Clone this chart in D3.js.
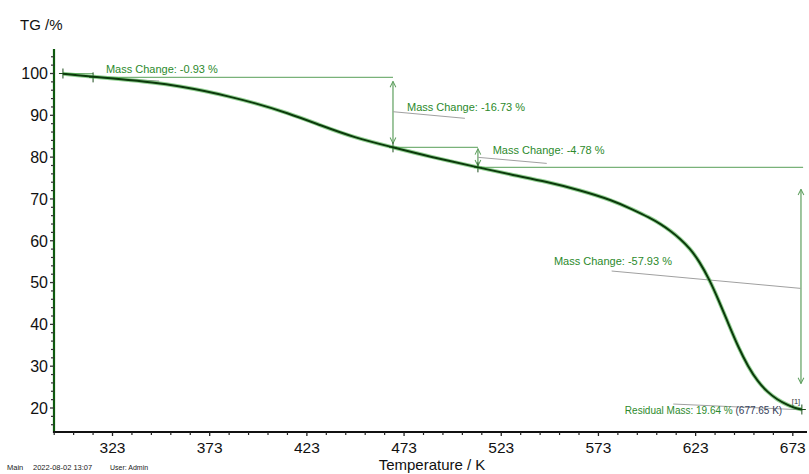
<!DOCTYPE html>
<html><head><meta charset="utf-8">
<script src="https://cdn.jsdelivr.net/npm/d3@7"></script>
<style>
html,body{margin:0;padding:0;background:#fff;}
svg{display:block;font-family:"Liberation Sans",Arial,sans-serif;}
</style></head>
<body><svg id="c" width="809" height="474"></svg>
<script>
// ---- data ----
const temperatureK = [297.5,305,312.6,325,344.3,358,370.1,383,395.8,412.9,430.1,447.2,467.3,486.3,511.0,529.2,546.4,563.5,580.6,590,599.5,605,610,615,620,625,630,635,640,645,650,655,660,665,670,674,677.65];
const tgPercent    = [99.95,99.6,99.25,98.75,97.85,96.9,95.85,94.5,93.0,90.6,87.6,84.7,82.34,80.1,77.56,75.7,74.1,72.1,69.6,67.6,65.5,64.0,62.4,60.5,58.2,55.0,50.8,45.6,40.0,34.5,29.9,26.3,23.8,22.0,20.8,20.0,19.64];
const xTickValues = [323,373,423,473,523,573,623,673];
const yTickValues = [20,30,40,50,60,70,80,90,100];
// step points (T, TG) and mass changes
const stepT   = [297.5,313,467.3,511,677.65];
const stepTG  = [100,99.07,82.34,77.56,19.64];
const stepLabels = ["Mass Change: -0.93 %","Mass Change: -16.73 %","Mass Change: -4.78 %","Mass Change: -57.93 %"];
const residualLabel = "Residual Mass: 19.64 % ";
const residualTemp = "(677.65 K)";

// ---- layout ----
const W=809,H=474, L=54, R=807, TOP=49, BOT=432;
const x = d3.scaleLinear().domain([292.9,680.3]).range([L,R]);
const y = d3.scaleLinear().domain([14.26,105.86]).range([BOT,TOP]);
const svg = d3.select("#c");

const GREEN_TXT="#2c8a2c", GREEN_LN="#79b279", GRAY_LN="#a0a0a0", ARROW="#5f9f5f";

// markers
const defs = svg.append("defs");
defs.append("marker").attr("id","ah").attr("viewBox","0 0 10 10").attr("refX",9).attr("refY",5)
  .attr("markerWidth",6).attr("markerHeight",6).attr("orient","auto-start-reverse")
  .append("path").attr("d","M1,1 L9,5 L1,9").attr("fill","none").attr("stroke",ARROW).attr("stroke-width",1.4);

// ---- axes ----
const minorY = d3.range(16,106,2).filter(v=>v%10!==0);
const minorX = d3.range(293,681,10).filter(v=>(v-323)%50!==0);

const gy = svg.append("g");
gy.append("line").attr("x1",L).attr("x2",L).attr("y1",TOP).attr("y2",BOT+1).attr("stroke","#0e5a0e").attr("stroke-width",2.2);
gy.selectAll("line.mj").data(yTickValues).join("line").attr("class","mj")
  .attr("x1",L-4).attr("x2",L).attr("y1",d=>y(d)).attr("y2",d=>y(d)).attr("stroke","#333").attr("stroke-width",1.3);
gy.selectAll("line.mn").data(minorY).join("line").attr("class","mn")
  .attr("x1",L-3).attr("x2",L).attr("y1",d=>y(d)).attr("y2",d=>y(d)).attr("stroke","#333").attr("stroke-width",1.2);
gy.selectAll("text").data(yTickValues).join("text")
  .attr("x",L-6).attr("y",d=>y(d)).attr("dy","0.36em").attr("text-anchor","end")
  .attr("font-size",16).attr("fill","#111").text(d=>d);

const gx = svg.append("g");
gx.append("line").attr("x1",L-1).attr("x2",R).attr("y1",BOT).attr("y2",BOT).attr("stroke","#111").attr("stroke-width",2);
gx.selectAll("line.mj").data(xTickValues).join("line").attr("class","mj")
  .attr("x1",d=>x(d)).attr("x2",d=>x(d)).attr("y1",BOT).attr("y2",BOT+4).attr("stroke","#222").attr("stroke-width",1.3);
gx.selectAll("line.mn").data(minorX).join("line").attr("class","mn")
  .attr("x1",d=>x(d)).attr("x2",d=>x(d)).attr("y1",BOT).attr("y2",BOT+3).attr("stroke","#222").attr("stroke-width",1.2);
gx.selectAll("text").data(xTickValues).join("text")
  .attr("x",d=>x(d)).attr("y",452.5).attr("text-anchor","middle")
  .attr("font-size",15.5).attr("fill","#111").text(d=>d);

svg.append("text").attr("x",20).attr("y",30).attr("font-size",15).attr("fill","#111").text("TG /%");
svg.append("text").attr("x",432).attr("y",470).attr("text-anchor","middle").attr("font-size",15).attr("fill","#111").text("Temperature / K");

const foot = svg.append("g").attr("font-size",7.5).attr("fill","#222");
foot.append("text").attr("x",7).attr("y",470).text("Main");
foot.append("text").attr("x",33).attr("y",470).text("2022-08-02 13:07");
foot.append("text").attr("x",110).attr("y",470).attr("font-size",7).text("User: Admin");

// ---- annotations ----
const A = svg.append("g");
const ln = (t1,v1,t2,v2,c,w)=>A.append("line").attr("x1",x(t1)).attr("y1",y(v1)).attr("x2",x(t2)).attr("y2",y(v2)).attr("stroke",c).attr("stroke-width",w||1);
const cross = (t,v)=>{ A.append("line").attr("x1",x(t)-4).attr("x2",x(t)+4).attr("y1",y(v)).attr("y2",y(v)).attr("stroke","#1d4d1d").attr("stroke-width",1);
  A.append("line").attr("x1",x(t)).attr("x2",x(t)).attr("y1",y(v)-5).attr("y2",y(v)+5).attr("stroke","#1d4d1d").attr("stroke-width",1); };
const varrow = (t,vTop,vBot,gTop,gBot)=>A.append("line").attr("x1",x(t)).attr("x2",x(t))
  .attr("y1",y(vTop)+gTop).attr("y2",y(vBot)-gBot).attr("stroke",ARROW).attr("stroke-width",1.2)
  .attr("marker-start","url(#ah)").attr("marker-end","url(#ah)");
const label = (t,v,s,fs)=>A.append("text").attr("x",x(t)).attr("y",y(v)).attr("font-size",fs||11).attr("fill",GREEN_TXT).text(s);

// step 1
ln(296.5,100,313,100,GREEN_LN,1);
ln(313,99.07,467.3,99.07,GREEN_LN,1.2);
ln(313,99.07,347,98.2,GRAY_LN,1);
cross(stepT[0],stepTG[0]); cross(stepT[1],stepTG[1]);
label(319.6,100.1,stepLabels[0]);
// step 2
varrow(stepT[2],stepTG[1],stepTG[2],4,4);
ln(stepT[2],90.86,504.3,89.28,GRAY_LN,1);
label(474.5,91.15,stepLabels[1]);
// step 3
ln(stepT[2],stepTG[2],stepT[3],stepTG[2],GREEN_LN,1.2);
cross(stepT[2],stepTG[2]);
varrow(stepT[3],stepTG[2],stepTG[3],1.5,1.5);
ln(stepT[3],79.95,546.4,78.5,GRAY_LN,1);
label(518.6,80.63,stepLabels[2]);
// step 4
ln(stepT[3],stepTG[3],678.3,stepTG[3],GREEN_LN,1.2);
cross(stepT[3],stepTG[3]);
varrow(677.2,stepTG[3],stepTG[4],22,26);
ln(579.8,52.76,677.2,48.6,GRAY_LN,1);
label(550.1,54.3,stepLabels[3]);
// residual
ln(611.5,20.95,678.2,19.55,GRAY_LN,1);
const rt = A.append("text").attr("x",x(586.6)).attr("y",y(18.6)).attr("font-size",10).attr("fill",GREEN_TXT);
rt.append("tspan").text(residualLabel);
rt.append("tspan").attr("fill","#34405a").text(residualTemp);
A.append("text").attr("x",x(672.5)).attr("y",y(20.9)).attr("font-size",7.5).attr("fill","#333").text("[1]");

// ---- curve ----
const pts = temperatureK.map((t,i)=>[t,tgPercent[i]]);
const line = d3.line().x(d=>x(d[0])).y(d=>y(d[1])).curve(d3.curveBasis);
svg.append("path").attr("d",line(pts)).attr("fill","none").attr("stroke","#3cab3c").attr("stroke-width",4).attr("stroke-opacity",0.55).attr("stroke-linejoin","round");
svg.append("path").attr("d",line(pts)).attr("fill","none").attr("stroke","#0b3a0b").attr("stroke-width",2).attr("stroke-linejoin","round");
cross(stepT[4],stepTG[4]);
</script></body></html>
